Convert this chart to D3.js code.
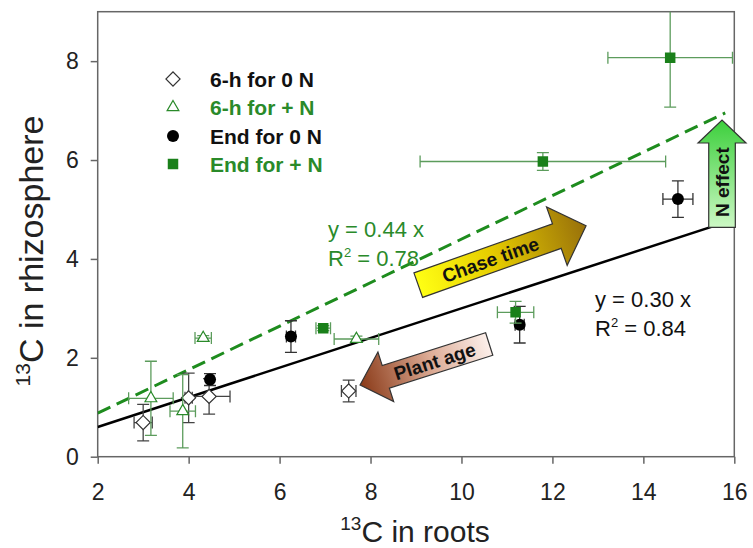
<!DOCTYPE html>
<html>
<head>
<meta charset="utf-8">
<script src="https://cdn.jsdelivr.net/npm/d3@7"></script>
<style>
  body { margin: 0; background: #fff; }
  svg { font-family: "Liberation Sans", Arial, sans-serif; }
</style>
</head>
<body>
<svg id="chart" width="753" height="548"></svg>
<script>
// ---- data ----
var xTicks = [2, 4, 6, 8, 10, 12, 14, 16];
var yTicks = [0, 2, 4, 6, 8];

var sixh0N_x = [3.0, 4.0, 4.45, 7.52];
var sixh0N_y = [0.69, 1.19, 1.22, 1.33];
var sixh0N_xe = [0.2, 0.08, 0.46, 0.16];
var sixh0N_ye = [0.37, 0.5, 0.36, 0.22];

var sixhN_x = [3.17, 3.87, 4.32, 7.69];
var sixhN_y = [1.18, 0.92, 2.40, 2.38];
var sixhN_xe = [0.49, 0.28, 0.18, 0.49];
var sixhN_ye = [0.75, 0.74, 0.05, 0.06];

var end0N_x = [4.47, 6.25, 11.28, 14.76];
var end0N_y = [1.56, 2.43, 2.67, 5.21];
var end0N_xe = [0.06, 0.1, 0.1, 0.33];
var end0N_ye = [0.12, 0.32, 0.37, 0.37];

var endN_x = [6.96, 11.19, 11.79, 14.59];
var endN_y = [2.60, 2.92, 5.97, 8.07];
var endN_xe = [0.16, 0.4, 2.7, 1.37];
var endN_ye = [0.05, 0.22, 0.18, 1.0];

var fitSlopes = [0.30, 0.44];
var fitXEnd = [16, 15.8];
var legendNames = ["6-h for 0 N", "6-h for + N", "End for 0 N", "End for + N"];

var green = "#2a8a2a";
var greenBar = "#5c9c5c";

var svg = d3.select("#chart");
var pLeft = 97.7, pRight = 734.3, pTop = 11.7, pBottom = 456.7;

var x = d3.scaleLinear().domain([2, 16]).range([pLeft, pRight]);
var y = d3.scaleLinear().domain([0, 9]).range([pBottom, pTop]);

svg.append("rect").attr("width", 753).attr("height", 548).attr("fill", "#fff");

var defs = svg.append("defs");
defs.append("clipPath").attr("id", "plotclip")
  .append("rect").attr("x", pLeft).attr("y", pTop)
  .attr("width", pRight - pLeft).attr("height", pBottom - pTop);

// axes
var xAxis = svg.append("g")
  .attr("transform", "translate(0," + pBottom + ")")
  .call(d3.axisBottom(x).tickValues(xTicks).tickSize(7).tickPadding(20).tickSizeOuter(0));
var yAxis = svg.append("g")
  .attr("transform", "translate(" + pLeft + ",0)")
  .call(d3.axisLeft(y).tickValues(yTicks).tickSize(7).tickPadding(12).tickSizeOuter(0));

[xAxis, yAxis].forEach(function(a) {
  a.select(".domain").remove();
  a.selectAll(".tick line").attr("stroke", "#666").attr("stroke-width", 1.5);
  a.selectAll(".tick text")
    .attr("fill", "#222")
    .style("font-size", "23px")
    .style("font-family", "Liberation Sans, Arial, sans-serif");
});

// frame
svg.append("rect")
  .attr("x", pLeft).attr("y", pTop)
  .attr("width", pRight - pLeft).attr("height", pBottom - pTop)
  .attr("fill", "none").attr("stroke", "#666").attr("stroke-width", 1.5);

// axis titles
var xt = svg.append("text")
  .attr("x", 415).attr("y", 542)
  .attr("text-anchor", "middle")
  .attr("fill", "#222")
  .style("font-size", "30px");
xt.append("tspan").attr("dy", -12).style("font-size", "19px").text("13");
xt.append("tspan").attr("dy", 12).text("C in roots");

var yt = svg.append("text")
  .attr("transform", "translate(43,251) rotate(-90)")
  .attr("text-anchor", "middle")
  .attr("fill", "#222")
  .style("font-size", "34px");
yt.append("tspan").attr("dy", -13).style("font-size", "21px").text("13");
yt.append("tspan").attr("dy", 13).text("C in rhizosphere");

// regression lines
var fits = svg.append("g").attr("clip-path", "url(#plotclip)");
fitSlopes.forEach(function(k, i) {
  fits.append("line")
    .attr("x1", x(2)).attr("y1", y(k * 2))
    .attr("x2", x(fitXEnd[i])).attr("y2", y(k * fitXEnd[i]))
    .attr("stroke", i === 0 ? "#000" : "#1e8c1e")
    .attr("stroke-width", i === 0 ? 2.5 : 3)
    .attr("stroke-dasharray", i === 0 ? null : "14,7");
});

// error bars + markers
function series(xs, ys, xe, ye) {
  return xs.map(function(v, i) { return { x: v, y: ys[i], xe: xe[i], ye: ye[i] }; });
}
var groups = [
  { data: series(sixh0N_x, sixh0N_y, sixh0N_xe, sixh0N_ye), bar: "#444", kind: "diamond" },
  { data: series(sixhN_x, sixhN_y, sixhN_xe, sixhN_ye), bar: greenBar, kind: "triangle" },
  { data: series(end0N_x, end0N_y, end0N_xe, end0N_ye), bar: "#333", kind: "circle" },
  { data: series(endN_x, endN_y, endN_xe, endN_ye), bar: greenBar, kind: "square" }
];

function drawMarker(sel, kind) {
  if (kind === "diamond") {
    sel.append("path").attr("d", d3.symbol(d3.symbolSquare, 100)())
      .attr("transform", "rotate(45)")
      .attr("fill", "#fff").attr("stroke", "#333").attr("stroke-width", 1.2);
  } else if (kind === "triangle") {
    sel.append("path").attr("d", d3.symbol(d3.symbolTriangle, 60)())
      .attr("fill", "#fff").attr("stroke", green).attr("stroke-width", 1.2);
  } else if (kind === "circle") {
    sel.append("circle").attr("r", 6).attr("fill", "#000");
  } else {
    sel.append("path").attr("d", d3.symbol(d3.symbolSquare, 110)())
      .attr("fill", "#1a801a");
  }
}

var cap = 6;
var pts = svg.append("g").attr("clip-path", "url(#plotclip)");
groups.forEach(function(gr) {
  var g = pts.append("g");
  var bars = g.selectAll("g.eb").data(gr.data).enter().append("g").attr("class", "eb")
    .attr("stroke", gr.bar).attr("stroke-width", 1.3).attr("fill", "none");
  bars.append("path").attr("d", function(d) {
    var x0 = x(d.x - d.xe), x1 = x(d.x + d.xe), yc = y(d.y);
    var y0 = y(d.y - d.ye), y1 = y(d.y + d.ye), xc = x(d.x);
    return "M" + x0 + "," + yc + "H" + x1 +
      "M" + x0 + "," + (yc - cap) + "V" + (yc + cap) +
      "M" + x1 + "," + (yc - cap) + "V" + (yc + cap) +
      "M" + xc + "," + y0 + "V" + y1 +
      "M" + (xc - cap) + "," + y0 + "H" + (xc + cap) +
      "M" + (xc - cap) + "," + y1 + "H" + (xc + cap);
  });
  g.selectAll("g.mk").data(gr.data).enter().append("g").attr("class", "mk")
    .attr("transform", function(d) { return "translate(" + x(d.x) + "," + y(d.y) + ")"; })
    .each(function() { drawMarker(d3.select(this), gr.kind); });
});

// legend
var legRows = [79, 107.3, 136, 164];
legendNames.forEach(function(name, i) {
  var row = svg.append("g").attr("transform", "translate(173," + legRows[i] + ")");
  drawMarker(row, groups[i].kind);
  row.append("text").attr("x", 37).attr("dy", "0.36em")
    .attr("fill", i % 2 === 0 ? "#111" : green)
    .style("font-size", "21px").style("font-weight", "bold")
    .text(name);
});

// equations
function equation(xp, yp, slope, r2, color) {
  var t = svg.append("text").attr("fill", color).style("font-size", "22px");
  t.append("tspan").attr("x", xp).attr("y", yp).text("y = " + slope.toFixed(2) + " x");
  var t2 = svg.append("text").attr("fill", color).style("font-size", "22px")
    .attr("x", xp).attr("y", yp + 28.5);
  t2.append("tspan").text("R");
  t2.append("tspan").attr("dy", -9).style("font-size", "13px").text("2");
  t2.append("tspan").attr("dy", 9).text(" = " + r2.toFixed(2));
}
equation(328, 237, 0.44, 0.78, green);
equation(595, 307, 0.30, 0.84, "#111");

// annotation arrows
function grad(id, stops) {
  var lg = defs.append("linearGradient").attr("id", id)
    .attr("x1", 0).attr("y1", 0).attr("x2", 1).attr("y2", 0);
  stops.forEach(function(s) {
    lg.append("stop").attr("offset", s[0]).attr("stop-color", s[1]);
  });
}
grad("gChase", [[0, "#ffff14"], [0.45, "#e6cc00"], [1, "#98700a"]]);
grad("gAge", [[0, "#fcefea"], [0.45, "#dcab95"], [1, "#8a3a18"]]);
grad("gN", [[0, "#ccf8c4"], [1, "#3ccf3c"]]);

function arrow(tail, tip, w, hw, hl, fill, label, fs) {
  var x0 = x(tail[0]), y0 = y(tail[1]), x1 = x(tip[0]), y1 = y(tip[1]);
  var L = Math.hypot(x1 - x0, y1 - y0);
  var ang = Math.atan2(y1 - y0, x1 - x0) * 180 / Math.PI;
  var g = svg.append("g").attr("transform", "translate(" + x0 + "," + y0 + ") rotate(" + ang + ")");
  var b = L - hl;
  g.append("path")
    .attr("d", "M0," + (-w) + "H" + b + "V" + (-hw) + "L" + L + ",0L" + b + "," + hw +
      "V" + w + "H0Z")
    .attr("fill", "url(#" + fill + ")")
    .attr("stroke", "#333").attr("stroke-width", 1.2);
  var flip = Math.abs(ang) > 100;
  g.append("text")
    .attr("transform", "translate(" + (b / 2 + 3) + ",0)" + (flip ? " rotate(180)" : ""))
    .attr("text-anchor", "middle").attr("dy", "0.36em")
    .attr("fill", "#111")
    .style("font-size", fs + "px").style("font-weight", "bold")
    .text(label);
}
arrow([9.05, 3.47], [12.74, 4.67], 13, 31, 31, "gChase", "Chase time", 19);
arrow([10.61, 2.28], [7.77, 1.45], 11.8, 26, 27, "gAge", "Plant age", 19);
arrow([15.73, 4.64], [15.73, 6.81], 13.3, 24, 23, "gN", "N effect", 19);
</script>
</body>
</html>
